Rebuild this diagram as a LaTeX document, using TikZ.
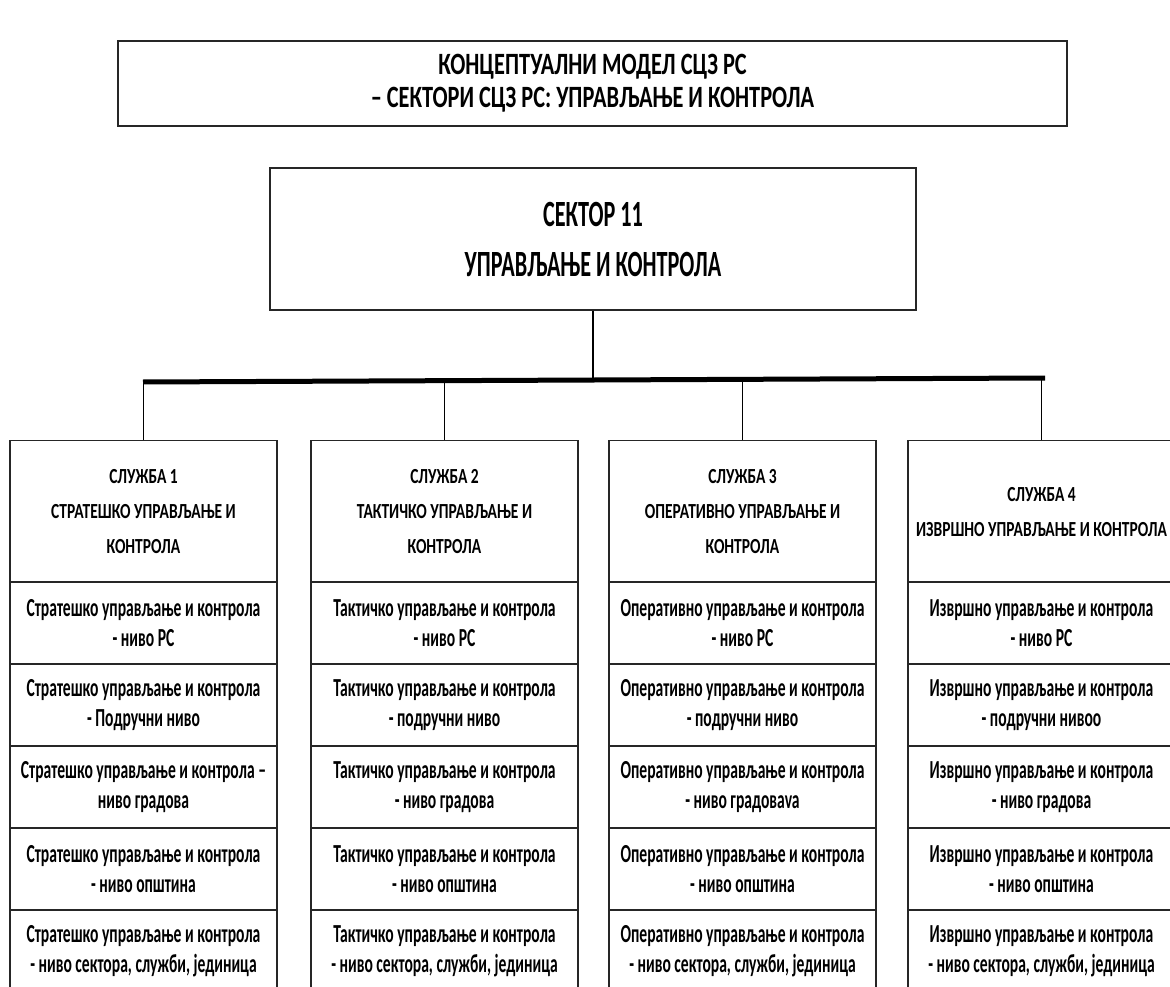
\documentclass[tikz,border=0pt]{standalone}
\usepackage{fontspec}
\setmainfont{Carlito}[FakeStretch=0.6]
\newfontfamily\widefont{Carlito}[FakeStretch=0.72]

\begin{document}
\begin{tikzpicture}[
  x=1pt,
  y=-1pt,
  line join=miter,
  box/.style={draw=black!85,line width=1.2pt,fill=white,inner sep=0pt,align=center},
  titlebox/.style={box,minimum width=949pt,minimum height=85pt,font=\widefont\bfseries\fontsize{31}{33}\selectfont},
  sectorbox/.style={box,minimum width=646pt,minimum height=142pt,font=\bfseries\fontsize{37}{50}\selectfont},
  headbox/.style={box,minimum width=267pt,minimum height=143pt,font=\widefont\bfseries\fontsize{21.5}{35}\selectfont},
  cellbox/.style={box,minimum width=267pt,minimum height=82pt,font=\bfseries\fontsize{26}{30}\selectfont},
  link/.style={draw=black,line width=1.7pt},
  busbar/.style={draw=black,line width=5pt}
]
  \useasboundingbox (0,0) rectangle (1170,987);

  % title and sector
  \node[titlebox] (title) at (592.5,83.5)
    {КОНЦЕПТУАЛНИ МОДЕЛ СЦЗ РС\\– СЕКТОРИ СЦЗ РС: УПРАВЉАЊЕ И КОНТРОЛА};
  \node[sectorbox] (sector) at (593,239)
    {СЕКТОР 11\\УПРАВЉАЊЕ И КОНТРОЛА};

  % services
  \node[headbox] (s1) at (143.5,512) {СЛУЖБА 1\\СТРАТЕШКО УПРАВЉАЊЕ И\\КОНТРОЛА};
  \node[headbox] (s2) at (444.5,512) {СЛУЖБА 2\\ТАКТИЧКО УПРАВЉАЊЕ И\\КОНТРОЛА};
  \node[headbox] (s3) at (742.5,512) {СЛУЖБА 3\\ОПЕРАТИВНО УПРАВЉАЊЕ И\\КОНТРОЛА};
  \node[headbox] (s4) at (1041.5,512) {СЛУЖБА 4\\ИЗВРШНО УПРАВЉАЊЕ И КОНТРОЛА};

  % levels, column 1
  \node[cellbox] (s1r1) at (143.5,623) {Стратешко управљање и контрола\\- ниво РС};
  \node[cellbox] (s1r2) at (143.5,705) {Стратешко управљање и контрола\\- Подручни ниво};
  \node[cellbox] (s1r3) at (143.5,787) {Стратешко управљање и контрола –\\ниво градова};
  \node[cellbox] (s1r4) at (143.5,869) {Стратешко управљање и контрола\\- ниво општина};
  \node[cellbox] (s1r5) at (143.5,951) {Стратешко управљање и контрола\\- ниво сектора, служби, јединица};

  % levels, column 2
  \node[cellbox] (s2r1) at (444.5,623) {Тактичко управљање и контрола\\- ниво РС};
  \node[cellbox] (s2r2) at (444.5,705) {Тактичко управљање и контрола\\- подручни ниво};
  \node[cellbox] (s2r3) at (444.5,787) {Тактичко управљање и контрола\\- ниво градова};
  \node[cellbox] (s2r4) at (444.5,869) {Тактичко управљање и контрола\\- ниво општина};
  \node[cellbox] (s2r5) at (444.5,951) {Тактичко управљање и контрола\\- ниво сектора, служби, јединица};

  % levels, column 3
  \node[cellbox] (s3r1) at (742.5,623) {Оперативно управљање и контрола\\- ниво РС};
  \node[cellbox] (s3r2) at (742.5,705) {Оперативно управљање и контрола\\- подручни ниво};
  \node[cellbox] (s3r3) at (742.5,787) {Оперативно управљање и контрола\\- ниво градоваva};
  \node[cellbox] (s3r4) at (742.5,869) {Оперативно управљање и контрола\\- ниво општина};
  \node[cellbox] (s3r5) at (742.5,951) {Оперативно управљање и контрола\\- ниво сектора, служби, јединица};

  % levels, column 4
  \node[cellbox] (s4r1) at (1041.5,623) {Извршно управљање и контрола\\- ниво РС};
  \node[cellbox] (s4r2) at (1041.5,705) {Извршно управљање и контрола\\- подручни нивоо};
  \node[cellbox] (s4r3) at (1041.5,787) {Извршно управљање и контрола\\- ниво градова};
  \node[cellbox] (s4r4) at (1041.5,869) {Извршно управљање и контрола\\- ниво општина};
  \node[cellbox] (s4r5) at (1041.5,951) {Извршно управљање и контрола\\- ниво сектора, служби, јединица};

  % connectors
  \coordinate (barL) at (143,382);
  \coordinate (barR) at (1045,378);
  \coordinate (bar) at (593,380);
  \draw[link] (sector.south) -- (sector.south |- bar);
  \draw[busbar] (barL) -- (barR);
  \draw[link] (s1.north) -- (s1.north |- bar);
  \draw[link] (s2.north) -- (s2.north |- bar);
  \draw[link] (s3.north) -- (s3.north |- bar);
  \draw[link] (s4.north) -- (s4.north |- bar);
\end{tikzpicture}
\end{document}
